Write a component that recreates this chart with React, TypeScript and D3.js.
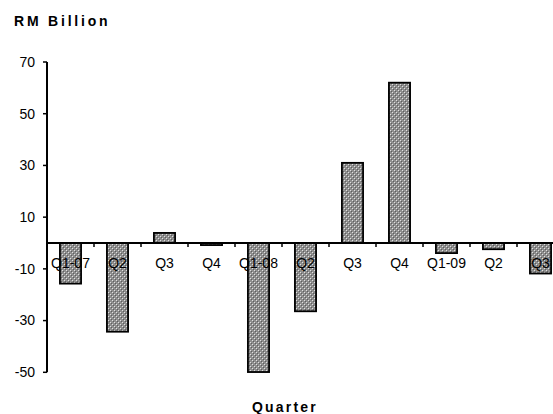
import { useEffect, useRef } from 'react';
import * as d3 from 'd3';

const quarters = ['Q1-07', 'Q2', 'Q3', 'Q4', 'Q1-08', 'Q2', 'Q3', 'Q4', 'Q1-09', 'Q2', 'Q3'];
const values = [-15.7, -34.3, 3.9, -0.8, -49.9, -26.4, 31.0, 62.0, -3.9, -2.4, -11.8];
const yTicks = [70, 50, 30, 10, -10, -30, -50];

export default function App() {
  const svgRef = useRef<SVGSVGElement>(null);

  useEffect(() => {
    if (!svgRef.current) return;
    const width = 553;
    const height = 414;
    const font = 'Arial, "Liberation Sans", sans-serif';

    const svg = d3.select(svgRef.current)
      .attr('width', width)
      .attr('height', height);
    svg.selectAll('*').remove();

    // dotted grey fill like the old Excel pattern
    const pat = svg.append('defs').append('pattern')
      .attr('id', 'dots')
      .attr('width', 4)
      .attr('height', 4)
      .attr('patternUnits', 'userSpaceOnUse');
    pat.append('rect').attr('width', 4).attr('height', 4).attr('fill', '#8e8e8e');
    pat.append('rect').attr('x', 0).attr('y', 0).attr('width', 1).attr('height', 1).attr('fill', '#e0e0e0');
    pat.append('rect').attr('x', 2).attr('y', 2).attr('width', 1).attr('height', 1).attr('fill', '#e0e0e0');
    pat.append('rect').attr('x', 1).attr('y', 1).attr('width', 1).attr('height', 1).attr('fill', '#5e5e5e');
    pat.append('rect').attr('x', 3).attr('y', 3).attr('width', 1).attr('height', 1).attr('fill', '#5e5e5e');

    const x = d3.scaleBand<number>()
      .domain(d3.range(quarters.length))
      .range([47, 564])
      .paddingInner(0.55)
      .paddingOuter(0.275);

    const y = d3.scaleLinear().domain([-50, 70]).range([372.3, 62]);
    const step = x.step();
    const x0 = 47;

    // bars
    svg.append('g')
      .selectAll('rect')
      .data(values)
      .enter()
      .append('rect')
      .attr('x', (_, i) => x(i)!)
      .attr('width', x.bandwidth())
      .attr('y', d => y(Math.max(0, d)))
      .attr('height', d => Math.abs(y(d) - y(0)))
      .attr('fill', 'url(#dots)')
      .attr('stroke', '#000')
      .attr('stroke-width', 1.8);

    // y axis
    svg.append('line')
      .attr('x1', x0).attr('x2', x0)
      .attr('y1', y(70)).attr('y2', y(-50))
      .attr('stroke', '#000').attr('stroke-width', 2);

    const yt = svg.append('g').selectAll('g').data(yTicks).enter().append('g');
    yt.append('line')
      .attr('x1', x0 - 4).attr('x2', x0)
      .attr('y1', d => y(d)).attr('y2', d => y(d))
      .attr('stroke', '#000').attr('stroke-width', 1.5);
    yt.append('text')
      .attr('x', 35)
      .attr('y', d => y(d))
      .attr('dy', '0.35em')
      .attr('text-anchor', 'end')
      .style('font-family', font)
      .style('font-size', '14px')
      .text(d => String(d));

    // zero line with ticks between categories
    svg.append('line')
      .attr('x1', x0).attr('x2', 564)
      .attr('y1', y(0)).attr('y2', y(0))
      .attr('stroke', '#000').attr('stroke-width', 2);

    svg.append('g').selectAll('line')
      .data(d3.range(1, quarters.length + 1))
      .enter()
      .append('line')
      .attr('x1', i => x0 + i * step).attr('x2', i => x0 + i * step)
      .attr('y1', y(0)).attr('y2', y(0) + 4)
      .attr('stroke', '#000').attr('stroke-width', 1.5);

    svg.append('g').selectAll('text')
      .data(quarters)
      .enter()
      .append('text')
      .attr('x', (_, i) => x(i)! + x.bandwidth() / 2)
      .attr('y', 263)
      .attr('dy', '0.35em')
      .attr('text-anchor', 'middle')
      .style('font-family', font)
      .style('font-size', '14px')
      .text(d => d);

    svg.append('text')
      .attr('x', 14)
      .attr('y', 26)
      .style('font-family', font)
      .style('font-size', '14px')
      .style('font-weight', 'bold')
      .style('letter-spacing', '2.8px')
      .text('RM Billion');

    svg.append('text')
      .attr('x', 285)
      .attr('y', 412)
      .attr('text-anchor', 'middle')
      .style('font-family', font)
      .style('font-size', '14px')
      .style('font-weight', 'bold')
      .style('letter-spacing', '2.2px')
      .text('Quarter');
  }, []);

  return (
    <div style={{ position: 'absolute', left: 0, top: 0, width: 553, height: 414, overflow: 'hidden', background: '#fff' }}>
      <svg ref={svgRef} style={{ display: 'block' }} />
    </div>
  );
}
